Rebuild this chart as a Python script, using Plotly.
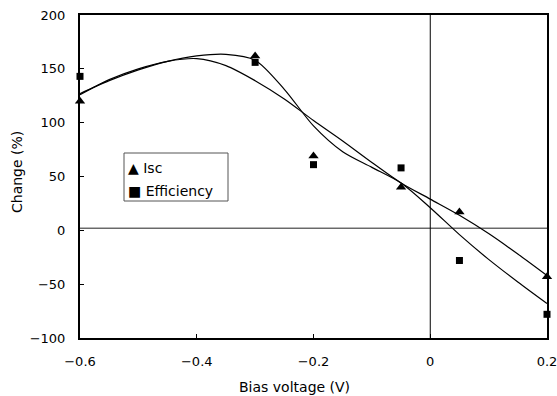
import plotly.graph_objects as go

# Measured data points
bias = [-0.6, -0.3, -0.2, -0.05, 0.05, 0.2]
isc = [120, 162, 69, 40, 17, -43]
efficiency = [143, 156, 61, 58, -28, -78]

trend_x = [-0.6, -0.55, -0.5, -0.45, -0.4, -0.35, -0.3, -0.25, -0.2, -0.15, -0.1, -0.05, 0.0, 0.05, 0.1, 0.15, 0.2]
trend_a_y = [127, 139, 149, 157, 162, 163.5, 158, 131, 97, 73, 58.5, 44, 21, -4, -27, -48, -68]
trend_b_y = [126, 140, 150, 157, 159.5, 153, 139, 122, 102, 83, 63, 44, 29, 14, -3, -22, -42]

# Reference lines
zero_y = 2
zero_x = 0

# Legend entries
legend_labels = ["\u25b2 Isc", "\u25a0 Efficiency"]

FONT = "DejaVu Sans, Verdana, sans-serif"

L, R, T, B = 80, 547, 15, 338
PW, PH = R - L, B - T


def px(x):
    return (x - L) / PW


def py(y):
    return (B - y) / PH


fig = go.Figure()
for ty in [trend_a_y, trend_b_y]:
    fig.add_trace(go.Scatter(x=trend_x, y=ty, mode="lines",
                             line=dict(color="black", width=1.2, shape="spline", smoothing=0.8),
                             showlegend=False, hoverinfo="skip"))
fig.add_trace(go.Scatter(x=bias, y=isc, mode="markers", name="Isc",
                         marker=dict(symbol="triangle-up", size=9, color="black"), cliponaxis=False))
fig.add_trace(go.Scatter(x=bias, y=efficiency, mode="markers", name="Efficiency",
                         marker=dict(symbol="square", size=7, color="black"), cliponaxis=False))

fig.add_shape(type="line", xref="paper", yref="y", x0=0, x1=1, y0=zero_y, y1=zero_y,
              line=dict(color="#222", width=1), layer="below")
fig.add_shape(type="line", xref="x", yref="paper", x0=zero_x, x1=zero_x, y0=0, y1=1,
              line=dict(color="black", width=1), layer="below")
# legend box
fig.add_shape(type="rect", xref="paper", yref="paper", x0=px(124), x1=px(228), y0=py(201), y1=py(153),
              line=dict(color="#555", width=1), fillcolor="white", layer="above")

annotations = [
    dict(text="Bias voltage (V)", xref="paper", yref="paper", x=px(294), y=py(387),
         xanchor="center", yanchor="middle", showarrow=False, font=dict(size=14)),
    dict(text="Change (%)", xref="paper", yref="paper", x=px(17), y=py(172),
         xanchor="center", yanchor="middle", showarrow=False, textangle=-90, font=dict(size=14)),
]
for i, lab in enumerate(legend_labels):
    annotations.append(dict(text=lab, xref="paper", yref="paper", x=px(126), y=py(168 + 23 * i),
                            xanchor="left", yanchor="middle", showarrow=False, font=dict(size=14)))

fig.update_layout(
    width=557, height=396,
    margin=dict(l=L, r=557 - R, t=T, b=396 - B, autoexpand=False),
    paper_bgcolor="white", plot_bgcolor="white",
    font=dict(family=FONT, size=13, color="black"),
    showlegend=False,
    xaxis=dict(range=[-0.6, 0.2], tickvals=[-0.6, -0.4, -0.2, 0, 0.2],
               ticktext=["\u22120.6", "\u22120.4", "\u22120.2", "0", "0.2"],
               ticks="inside", ticklen=4, tickcolor="black", showgrid=False, zeroline=False,
               showline=True, linecolor="black", linewidth=2, mirror=True,
               automargin=False, ticklabelstandoff=10, ticklabeloverflow="allow"),
    yaxis=dict(range=[-100, 200], tickvals=[-100, -50, 0, 50, 100, 150, 200],
               ticktext=["\u2212100", "\u221250", "0", "50", "100", "150", "200"],
               ticks="inside", ticklen=4, tickcolor="black", showgrid=False, zeroline=False,
               showline=True, linecolor="black", linewidth=2, mirror=True,
               automargin=False, ticklabelstandoff=10, ticklabeloverflow="allow"),
    annotations=annotations,
)

fig.write_html("out.html")
